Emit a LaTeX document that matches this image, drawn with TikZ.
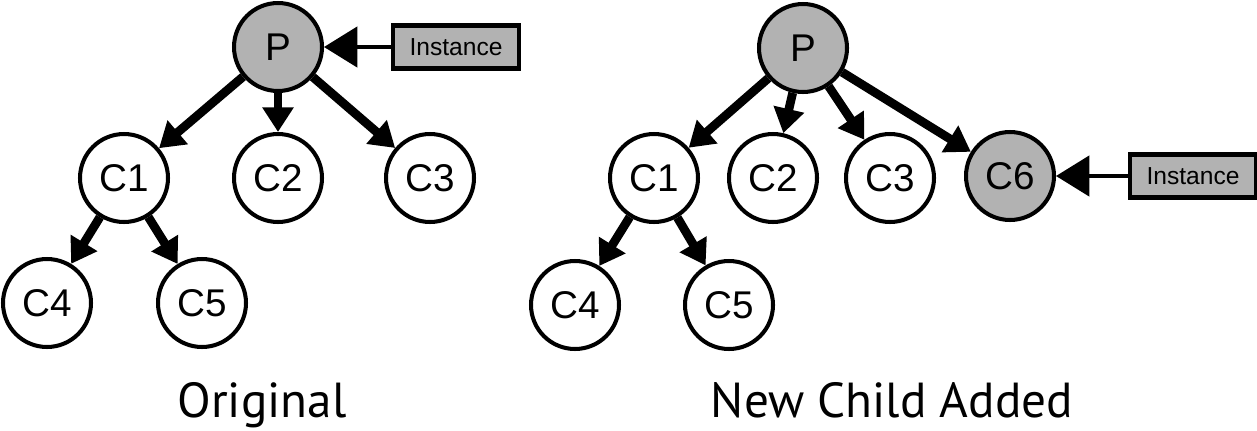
\documentclass[tikz,border=0pt]{standalone}
\usepackage{fontspec}
\setmainfont{Liberation Sans}
\newfontfamily\capfont{PT Sans}
\usetikzlibrary{arrows.meta}
\begin{document}
\begin{tikzpicture}[x=0.02cm, y=-0.02cm,
		obj/.style={circle, draw, line width=2.3pt, minimum size=1.76cm, inner sep=0pt, font=\fontsize{22}{22}\selectfont},
		inst/.style={obj, fill=black!30},
		tagbox/.style={draw, line width=2.3pt, fill=black!30, minimum width=2.52cm, minimum height=0.86cm, inner sep=0pt, font=\fontsize{14}{14}\selectfont},
		link/.style={line width=5pt, -{Triangle[length=14pt,width=17pt]}},
		ptr/.style={line width=2pt, -{Triangle[length=19pt,width=23pt]}},
		caption/.style={anchor=base, font=\capfont\fontsize{28}{28}\selectfont}]
		\useasboundingbox (0, 0) rectangle (1257, 430);
		
		\draw node[inst] at (278, 47) (p) {P};
		\draw node[obj] at (124, 178) (c1) {C1};
		\draw node[obj] at (278, 178) (c2) {C2};
		\draw node[obj] at (430, 178) (c3) {C3};
		\draw node[obj] at (47, 303) (c4) {C4};
		\draw node[obj] at (202, 303) (c5) {C5};
		\draw node[tagbox] at (456, 47) (inst) {Instance};
		\draw node[caption] at (262, 417) (orig) {Original};
		
		\draw [link]   (p) -- (c1);
		\draw [link]   (p) -- (c2);
		\draw [link]   (p) -- (c3);
		\draw [link]   (c1) -- (c4);
		\draw [link]   (c1) -- (c5);
		\draw [ptr]   (inst) -- (p);
		
		\draw node[inst] at (803, 48) (q) {P};
		\draw node[obj] at (654, 178) (d1) {C1};
		\draw node[obj] at (773, 178) (d2) {C2};
		\draw node[obj] at (890, 178) (d3) {C3};
		\draw node[inst] at (1010, 176) (d6) {C6};
		\draw node[obj] at (575, 305) (d4) {C4};
		\draw node[obj] at (729, 305) (d5) {C5};
		\draw node[tagbox] at (1193, 176) (inst2) {Instance};
		\draw node[caption] at (892, 417) (added) {New Child Added};
		
		\draw [link]   (q) -- (d1);
		\draw [link]   (q) -- (d2);
		\draw [link]   (q) -- (d3);
		\draw [link]   (q) -- (d6);
		\draw [link]   (d1) -- (d4);
		\draw [link]   (d1) -- (d5);
		\draw [ptr]   (inst2) -- (d6);
	\end{tikzpicture}
\end{document}
